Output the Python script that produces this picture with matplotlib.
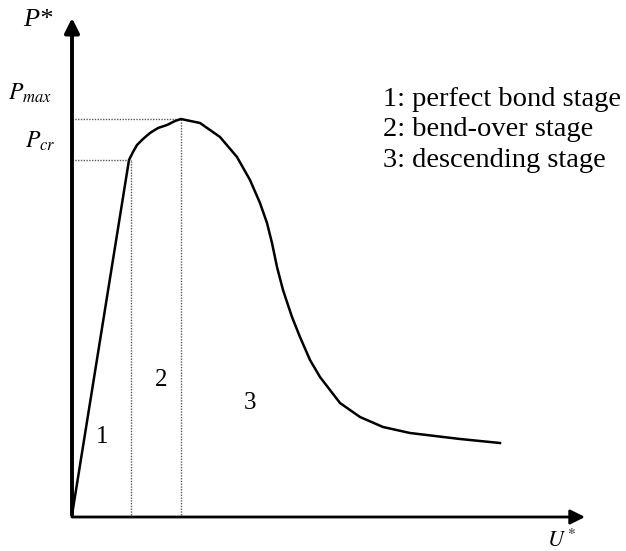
import matplotlib
matplotlib.use("Agg")
import matplotlib.pyplot as plt

# curve (U*, P*), origin at the axes corner
u_curve = [0, 57, 61, 65, 71, 78, 86, 95, 103, 109, 128, 148, 165, 178, 188, 195,
           200, 205, 211, 220, 228, 238, 248, 258, 268, 278, 288, 311, 338, 388, 428]
p_curve = [0, 355, 363, 370, 376, 382, 387, 390, 394, 396, 392, 378, 358, 335, 312, 292,
           272, 248, 225, 198, 178, 155, 138, 125, 112, 105, 98, 88, 82, 76, 72]

# characteristic points
u_cr, p_cr = 59, 355
u_max, p_max = 109, 396

# stage labels inside the plot
stage_num = ["1", "2", "3"]
stage_u = [30, 89, 178]
stage_p = [78, 135, 112]

legend_lines = ["1: perfect bond stage", "2: bend-over stage", "3: descending stage"]

plt.rcParams['mathtext.fontset'] = 'stix'
serif = 'Liberation Serif'

fig = plt.figure(figsize=(6.26, 5.51), dpi=100)
ax = fig.add_axes([0, 0, 1, 1])
ax.set_xlim(-72, 554)
ax.set_ylim(-36, 515)
ax.axis('off')

# axes with arrows
ax.annotate('', xy=(0, 497), xytext=(0, 0),
            arrowprops=dict(arrowstyle='-|>', lw=2.8, color='black',
                            mutation_scale=22, shrinkA=0, shrinkB=0))
ax.annotate('', xy=(513, -2), xytext=(0, -2),
            arrowprops=dict(arrowstyle='-|>', lw=2.0, color='black',
                            mutation_scale=22, shrinkA=0, shrinkB=0))

# dotted guide lines
dot = dict(color='0.35', lw=1.0, linestyle=(0, (1, 1)))
ax.plot([0, u_cr], [p_cr, p_cr], **dot)
ax.plot([0, u_max], [p_max, p_max], **dot)
ax.plot([u_cr, u_cr], [0, p_cr], **dot)
ax.plot([u_max, u_max], [0, p_max], **dot)

# load-slip curve
ax.plot(u_curve, p_curve, color='black', lw=1.8, solid_joinstyle='round')

# axis labels
ax.text(-34, 495, 'P*', fontsize=19, family=serif, style='italic',
        ha='center', va='center')
ax.text(-64, 415, r'$P_{max}$', fontsize=17, ha='left', va='baseline')
ax.text(-47, 367, r'$P_{cr}$', fontsize=17, ha='left', va='baseline')
ax.text(475, -14, r'$U^*$', fontsize=16, ha='left', va='top')

for s, u, p in zip(stage_num, stage_u, stage_p):
    ax.text(u, p, s, fontsize=18, family=serif, ha='center', va='center')

for i, line in enumerate(legend_lines):
    ax.text(311, 409 - 30.5 * i, line, fontsize=20.5, family=serif,
            ha='left', va='baseline')

fig.savefig('out.png', dpi=100, facecolor='white')
